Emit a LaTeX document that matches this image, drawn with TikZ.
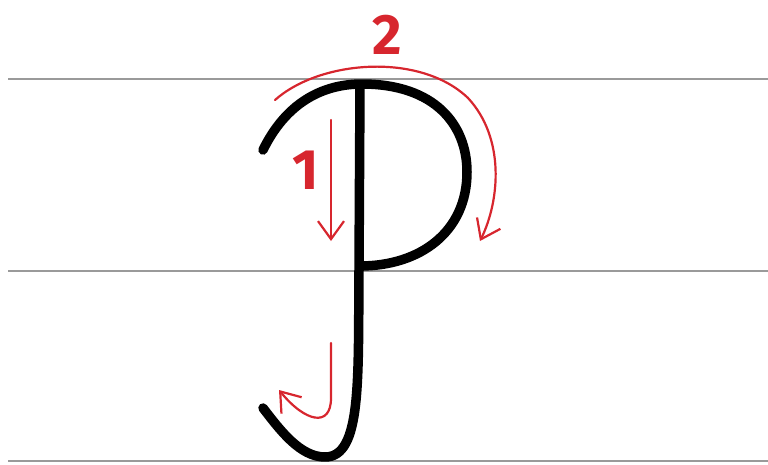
\documentclass[tikz,border=0pt]{standalone}
\usepackage{fontspec}
\setmainfont{Fira Sans}
\usetikzlibrary{arrows.meta}
\definecolor{guide}{HTML}{9A9A9A}
\definecolor{hint}{HTML}{D7262E}

\begin{document}
\begin{tikzpicture}[
  x=1pt, y=-1pt,
  rule/.style={draw=guide, line width=1.4pt},
  letter/.style={draw=black, line width=9.5pt, line cap=round, line join=round},
  order/.style={draw=hint, line width=2.2pt, line cap=round},
  num/.style={text=hint, font=\fontsize{57}{57}\selectfont\bfseries, inner sep=0pt},
  >={Straight Barb[length=18pt,width=26pt,line width=2.2pt]}
]
\useasboundingbox (0,0) rectangle (768,464);
% writing lines
\draw[rule] (8,79)  -- (768,79);
\draw[rule] (8,271) -- (768,271);
\draw[rule] (8,461) -- (768,461);
% the letter
\draw[letter] (263,150) .. controls (285,105) and (320,84) .. (362,84)
  .. controls (435,84) and (467,125) .. (467,172)
  .. controls (467,232) and (420,266) .. (360,266);
\draw[letter] (360,86) -- (359,270) .. controls (358,380) and (362,457) .. (325,457)
  .. controls (300,457) and (280,430) .. (263,408);
% stroke order
\node[num] (two) at (387,35)  {2};
\node[num] (one) at (306,170) {1};
\draw[order, ->] (331,120) -- (331,241);
\draw[order, ->] (275,100) .. controls (320,60) and (420,52) .. (468,98)
  .. controls (505,138) and (500,200) .. (480,241);
\draw[order, ->] (331,343) -- (331,398) .. controls (331,428) and (305,422) .. (279,390);
\end{tikzpicture}
\end{document}
